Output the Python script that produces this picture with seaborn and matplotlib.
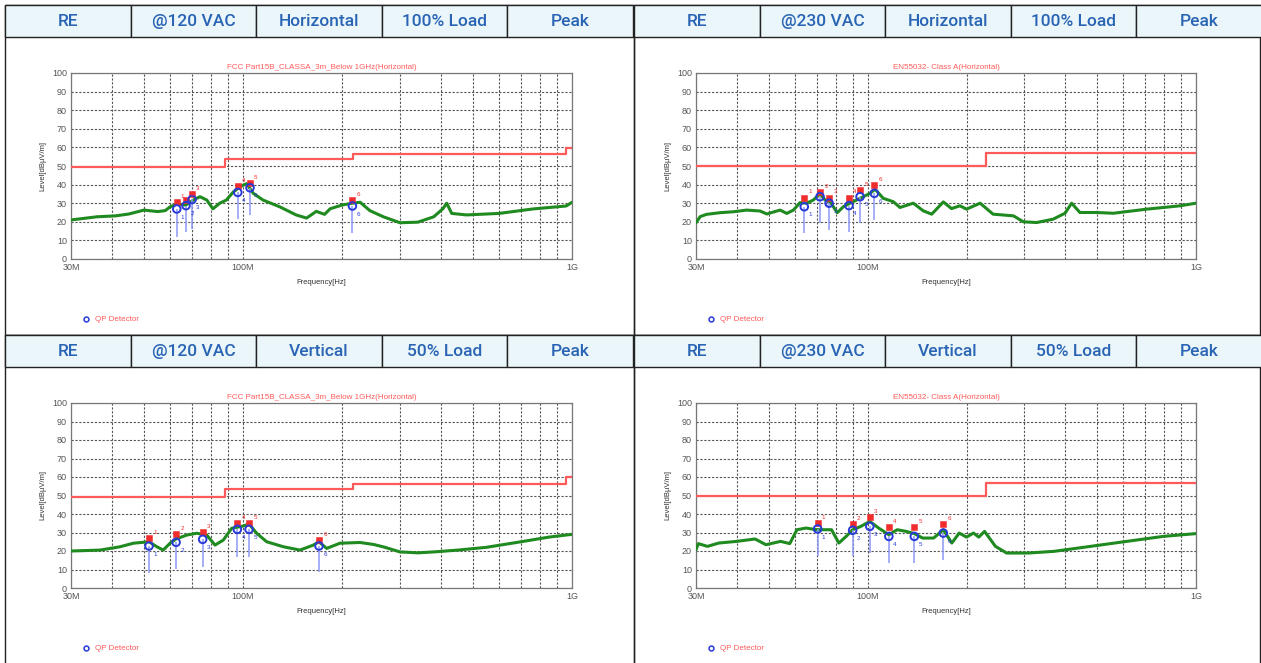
import matplotlib
matplotlib.use("Agg")
import matplotlib.pyplot as plt
import matplotlib.patches as mpatches
from matplotlib.lines import Line2D
import seaborn as sns

sns.set_style("white")
plt.rcParams["font.family"] = ["Roboto", "DejaVu Sans"]

W, H = 1261, 663

# ---- header labels ----
hdr_tl = ["RE", "@120 VAC", "Horizontal", "100% Load", "Peak"]
hdr_tr = ["RE", "@230 VAC", "Horizontal", "100% Load", "Peak"]
hdr_bl = ["RE", "@120 VAC", "Vertical", "50% Load", "Peak"]
hdr_br = ["RE", "@230 VAC", "Vertical", "50% Load", "Peak"]

title_fcc = "FCC Part15B_CLASSA_3m_Below 1GHz(Horizontal)"
title_en = "EN55032- Class A(Horizontal)"

# ---- limit lines (MHz, dBuV/m) ----
fcc_freq = [30, 88, 216, 960, 1000]
fcc_level = [49.3, 53.6, 56.3, 59.8, 59.8]
en_freq = [30, 230, 1000]
en_level = [50, 57, 57]

# ---- measured traces ----
tl_freq = [30, 36, 41, 45, 50, 55, 58, 60, 63, 67, 70.6, 74, 77.6, 81, 85, 89, 93.4, 98,
           102.6, 107.5, 115, 129.5, 145, 156, 167, 177, 184, 200, 215, 227, 243, 267,
           300, 340, 380, 405, 416, 431, 478, 600, 760, 960, 1000]
tl_level = [21, 22.7, 23.2, 24.2, 26.3, 25.5, 26, 28, 29.6, 29, 31.7, 33.5, 31.7, 27, 30,
            31.7, 36, 38.9, 40.5, 35.3, 31.7, 28, 23.7, 22, 25.6, 24, 27, 29, 30, 30.5,
            26, 22.7, 19.5, 19.8, 22.7, 27, 30, 24.5, 23.7, 24.5, 26.9, 28.5, 30.5]

tr_freq = [30, 30.9, 32.3, 35.5, 39, 42.8, 47, 49.3, 54.1, 56.7, 59.4, 62.2, 65.2, 68.3,
           71.6, 74.2, 76.8, 80.8, 84.3, 88.3, 92.5, 97, 101.6, 105.3, 111.6, 119.7,
           125.4, 137.7, 147.7, 156.7, 170, 180, 191, 200, 220, 241, 278, 298, 327,
           367, 399, 418, 443, 498, 560, 708, 894, 1000]
tr_level = [19.5, 22.8, 24, 24.9, 25.4, 26.3, 25.8, 24.2, 26.3, 24.5, 26.3, 30.3, 30,
            31.7, 35, 31.7, 30.8, 24.9, 28.1, 30, 31.7, 33.5, 35.3, 37.5, 32.6, 30.8,
            27.7, 30, 25.9, 24.1, 30.7, 27.1, 28.6, 26.8, 30, 24.1, 23.2, 20, 19.6,
            21.4, 24.6, 30, 25, 25, 24.6, 26.8, 28.6, 30]

bl_freq = [30, 36.8, 42.3, 46.4, 51.8, 54.7, 57.2, 60, 62.6, 67.4, 72.3, 77.6, 82.2,
           87.1, 92.4, 100.2, 104.3, 110, 118, 132.6, 149, 163.6, 170, 179.6, 197,
           226.7, 250, 270, 300, 340, 380, 450, 550, 700, 850, 1000]
bl_level = [20, 20.5, 22.3, 24.2, 25, 22.3, 20.5, 24.2, 26.5, 28.6, 29.6, 28.6, 23.2,
            25.9, 32.3, 33.5, 34.6, 29.6, 25, 22.3, 20.5, 23.2, 25, 21.4, 24.2, 24.6,
            23.5, 22, 19.5, 19, 19.5, 20.5, 22, 25, 27.5, 29]

br_freq = [30, 30.5, 32.5, 35.2, 39.9, 45.4, 49, 54.3, 57.9, 60.9, 64.9, 70, 77.6, 81.7,
           86, 90, 95.3, 101.5, 108, 116, 123, 131, 138.7, 147, 158.8, 170, 180.4, 190,
           200, 210, 218, 227, 245, 265, 308, 369, 477, 615, 795, 1000]
br_level = [20.7, 24, 22.5, 24.3, 25.2, 26.5, 23.4, 25.2, 24, 31.5, 32.4, 31.5, 31.5,
            24.3, 27.9, 31.5, 33.3, 36, 32.4, 28.8, 31.5, 30.6, 29.4, 27, 27, 31.5,
            24.3, 29.7, 27.5, 29.7, 27.5, 30.6, 22.5, 18.9, 18.9, 19.8, 22.5, 25.2,
            27.9, 29.4]

# ---- markers: peak (red), QP (blue), stem bottom ----
tl_mk_f = [62.9, 67.1, 70, 96.4, 105, 215]
tl_pk = [30.5, 31.7, 35, 39.2, 40.7, 31.7]
tl_qp = [26.9, 28.7, 32, 35.8, 38.3, 28.5]
tl_stem = [12, 14.5, 16, 21.3, 23.7, 13.8]

tr_mk_f = [64.1, 71.6, 76.3, 87.7, 94.8, 104.8]
tr_pk = [33, 36.2, 33, 33, 37, 39.8]
tr_qp = [28.1, 33.5, 30, 28.7, 33.5, 35.3]
tr_stem = [13.8, 19.2, 15.6, 14.3, 19.2, 21]

bl_mk_f = [51.8, 62.6, 75.4, 96.1, 104.3, 170.2]
bl_pk = [26.9, 29, 30.4, 35.3, 35, 25.9]
bl_qp = [22.7, 24.7, 26.3, 31.7, 31.7, 22.7]
bl_stem = [8.3, 10.1, 11.5, 16.9, 16.9, 8.8]

br_mk_f = [70.4, 90, 101.5, 116, 138.7, 170]
br_pk = [35.1, 34.6, 38.2, 32.8, 32.8, 34.6]
br_qp = [31.9, 31.2, 33.3, 27.9, 27.9, 29.7]
br_stem = [17.1, 17.1, 18.9, 13.5, 13.5, 15.3]

# colours
LIMIT = "#ff5a5a"
TRACE = "#1f8a1f"
PEAK = "#f02c2c"
QPC = "#2a3ad8"
STEM = "#8d98f5"
HDR_BG = "#eaf6fa"
HDR_TXT = "#2a64b4"


def fx(px):
    return px / W


def fy(py):
    return 1 - py / H


fig = plt.figure(figsize=(W / 100, H / 100), dpi=100)


def header(x0, y0, labels):
    w = 125.6
    x = x0
    for lab in labels:
        fig.add_artist(mpatches.Rectangle((fx(x), fy(y0 + 32)), w / W, 32 / H,
                                          transform=fig.transFigure, facecolor=HDR_BG,
                                          edgecolor="#222222", lw=1.0))
        fig.text(fx(x + w / 2), fy(y0 + 16.5), lab, ha="center", va="center",
                 fontsize=12.5, color=HDR_TXT, fontweight="medium")
        x += w


def box(x0, y0, x1, y1):
    fig.add_artist(mpatches.Rectangle((fx(x0), fy(y1)), (x1 - x0) / W, (y1 - y0) / H,
                                      transform=fig.transFigure, facecolor="none",
                                      edgecolor="#222222", lw=1.0))


def panel(rect, freq, level, lim_f, lim_l, mk_f, pk, qp, stem, title, legend_y):
    l, t, r, b = rect
    ax = fig.add_axes([fx(l), fy(b), (r - l) / W, (b - t) / H])
    ax.set_xscale("log")
    ax.set_xlim(30, 1000)
    ax.set_ylim(0, 100)
    ax.set_xticks([30, 100, 1000])
    ax.set_xticklabels(["30M", "100M", "1G"])
    ax.set_xticks([40, 50, 60, 70, 80, 90, 200, 300, 400, 500, 600, 700, 800, 900],
                  minor=True)
    ax.set_yticks(range(0, 101, 10))
    ax.tick_params(which="both", length=0, labelsize=6.5, colors="#555555", pad=3)
    for lab in ax.get_xticklabels() + ax.get_yticklabels():
        lab.set_family("Liberation Sans")
    ax.grid(True, which="both", color="#555555", ls=(0, (2, 1.5)), lw=0.8)
    for sp in ax.spines.values():
        sp.set_color("#777777")
        sp.set_linewidth(0.9)

    ax.step(lim_f, lim_l, where="post", color=LIMIT, lw=1.6, zorder=3)
    sns.lineplot(x=freq, y=level, ax=ax, color=TRACE, lw=2.2, sort=False,
                 estimator=None, zorder=4)
    ax.vlines(mk_f, stem, qp, color=STEM, lw=1.1, zorder=5)
    sns.scatterplot(x=mk_f, y=pk, ax=ax, marker="s", color=PEAK, s=22,
                    edgecolor=PEAK, zorder=6)
    ax.scatter(mk_f, qp, s=30, facecolors="none", edgecolors=QPC, lw=1.4, zorder=7)
    for i, (f, p, q) in enumerate(zip(mk_f, pk, qp), start=1):
        ax.annotate(str(i), (f, p), xytext=(3, 3), textcoords="offset points",
                    fontsize=4.5, color=PEAK, family="Liberation Sans", zorder=8)
        ax.annotate(str(i), (f, q), xytext=(3, -7), textcoords="offset points",
                    fontsize=4.5, color=QPC, family="Liberation Sans", zorder=8)

    ax.set_title(title, fontsize=5.8, color=LIMIT, pad=3, family="Liberation Sans")
    ax.set_xlabel("Frequency[Hz]", fontsize=5.5, color="#333333", labelpad=5,
                  family="Liberation Sans")
    ax.set_ylabel("Level[dB\u00b5V/m]", fontsize=5.5, color="#333333", labelpad=4,
                  family="Liberation Sans")

    fig.add_artist(Line2D([fx(l + 15)], [fy(legend_y)], marker="o", ms=3.5, mfc="none",
                          mec=QPC, mew=1.1, ls="none", transform=fig.transFigure))
    fig.text(fx(l + 24), fy(legend_y), "QP Detector", fontsize=5.8, color=LIMIT,
             va="center", family="Liberation Sans")
    return ax


# frames and headers
box(5, 5, 634, 335)
box(634, 5, 1260, 335)
box(5, 335, 634, 664)
box(634, 335, 1260, 664)
header(5, 5, hdr_tl)
header(634, 5, hdr_tr)
header(5, 335, hdr_bl)
header(634, 335, hdr_br)

panel((71, 73, 572, 259), tl_freq, tl_level, fcc_freq, fcc_level,
      tl_mk_f, tl_pk, tl_qp, tl_stem, title_fcc, 319)
panel((696, 73, 1196, 259), tr_freq, tr_level, en_freq, en_level,
      tr_mk_f, tr_pk, tr_qp, tr_stem, title_en, 319)
panel((71, 403, 572, 588), bl_freq, bl_level, fcc_freq, fcc_level,
      bl_mk_f, bl_pk, bl_qp, bl_stem, title_fcc, 648)
panel((696, 403, 1196, 588), br_freq, br_level, en_freq, en_level,
      br_mk_f, br_pk, br_qp, br_stem, title_en, 648)

fig.savefig("out.png", dpi=100, facecolor="white")
